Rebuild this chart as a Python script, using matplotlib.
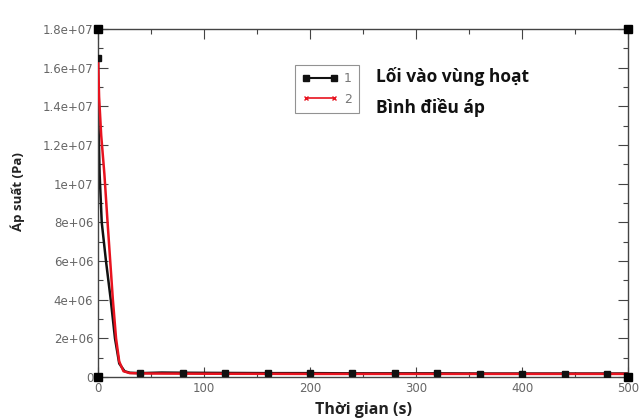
import matplotlib
matplotlib.use("Agg")
import matplotlib.pyplot as plt
from matplotlib.lines import Line2D

# series 1: inlet to the active zone
t_inlet = [0, 0.5, 1.5, 3.5, 7.5, 12, 16, 20, 25, 30, 40, 60, 80, 120, 160, 200,
           240, 280, 320, 360, 400, 440, 480, 500]
p_inlet = [1.65e7, 1.3e7, 1.05e7, 8.0e6, 6.0e6, 4.0e6, 2.0e6, 7.0e5, 3.0e5, 2.2e5,
           2.0e5, 2.3e5, 2.2e5, 2.1e5, 2.0e5, 2.0e5, 1.9e5, 1.9e5, 1.9e5, 1.8e5,
           1.8e5, 1.8e5, 1.8e5, 1.8e5]
marked = [0, 10, 12, 13, 14, 15, 16, 17, 18, 19, 20, 21, 22]

# series 2: pressurizer
t_press = [0, 1, 3, 6, 9, 11.5, 14, 17, 20, 24, 30, 50, 100, 200, 300, 400, 500]
p_press = [1.65e7, 1.45e7, 1.25e7, 1.05e7, 8.0e6, 6.0e6, 4.0e6, 2.0e6, 8.0e5, 3.0e5,
           2.0e5, 1.8e5, 1.7e5, 1.6e5, 1.6e5, 1.6e5, 1.6e5]

yticks = [0, 2e6, 4e6, 6e6, 8e6, 1e7, 1.2e7, 1.4e7, 1.6e7, 1.8e7]
ytick_labels = ["0", "2e+06", "4e+06", "6e+06", "8e+06", "1e+07",
                "1.2e+07", "1.4e+07", "1.6e+07", "1.8e+07"]
xticks = [0, 100, 200, 300, 400, 500]

fig = plt.figure(figsize=(6.39, 4.19), dpi=100)
ax = fig.add_axes([0.1534, 0.1002, 0.8296, 0.8306])

ax.plot(t_inlet, p_inlet, color="#111111", lw=1.8, zorder=2)
ax.plot(t_press, p_press, color="#e8131f", lw=1.8, zorder=3)
ax.plot([t_inlet[i] for i in marked], [p_inlet[i] for i in marked],
        ls="none", marker="s", ms=4.5, color="#111111", zorder=4)

# corner markers on the frame
ax.plot([0, 0, 500, 500], [0, 1.8e7, 0, 1.8e7], ls="none", marker="s", ms=6,
        color="black", clip_on=False, zorder=5)

ax.set_xlim(0, 500)
ax.set_ylim(0, 1.8e7)
ax.set_xticks(xticks)
ax.set_xticks(range(50, 500, 100), minor=True)
ax.set_yticks(yticks)
ax.set_yticklabels(ytick_labels)
ax.set_yticks([1e6, 3e6, 5e6, 7e6, 9e6, 1.1e7, 1.3e7, 1.5e7, 1.7e7], minor=True)
ax.tick_params(which="both", direction="in", top=True, right=True,
               colors="#444444", labelcolor="#666666", labelsize=8.5)
ax.tick_params(which="major", length=7, width=0.8)
ax.tick_params(which="minor", length=3.5, width=0.8)
for s in ax.spines.values():
    s.set_color("#444444")
    s.set_linewidth(1.0)

ax.set_ylabel("Áp suất (Pa)", fontsize=9.5, fontweight="bold", family="Open Sans",
              color="#222222")
ax.yaxis.set_label_coords(-0.138, 0.534)
ax.set_xlabel("Thời gian (s)", fontsize=11.5, fontweight="bold", family="Open Sans",
              color="#222222")
ax.xaxis.set_label_coords(0.5, -0.072)

handles = [
    Line2D([], [], color="#111111", lw=1.5, marker="s", ms=4),
    Line2D([], [], color="#e8131f", lw=1.2, marker="x", ms=3),
]
leg = ax.legend(handles, ["1", "2"], loc="upper left", bbox_to_anchor=(0.36, 0.915),
                numpoints=2, handlelength=2.8, handletextpad=0.5, fontsize=9,
                frameon=True, fancybox=False, borderpad=0.6, labelspacing=0.6)
leg.get_frame().set_edgecolor("#777777")
leg.get_frame().set_linewidth(0.8)
for txt in leg.get_texts():
    txt.set_color("#777777")

ax.text(0.524, 0.863, "Lối vào vùng hoạt", transform=ax.transAxes, fontsize=12.5,
        fontweight="bold", family="Open Sans", color="#111111", va="center")
ax.text(0.524, 0.773, "Bình điều áp", transform=ax.transAxes, fontsize=12.5,
        fontweight="bold", family="Open Sans", color="#111111", va="center")

fig.savefig("out.png", dpi=100)
